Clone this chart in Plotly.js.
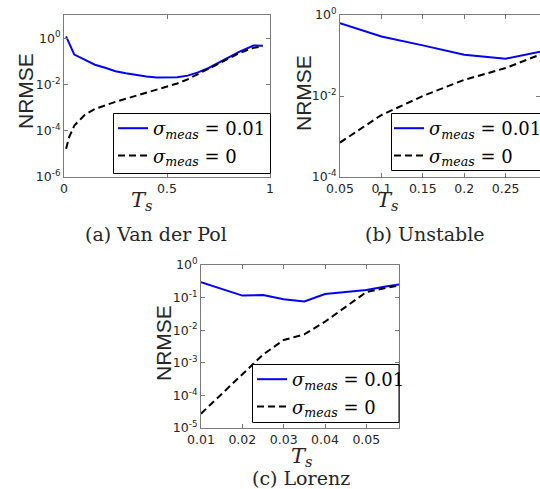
<!DOCTYPE html>
<html>
<head>
<meta charset="utf-8">
<script src="https://cdn.plot.ly/plotly-3.0.1.min.js"></script>
<style>html,body{margin:0;padding:0;background:#fff;}#chart{width:540px;height:489px;}</style>
</head>
<body>
<div id="chart"></div>
<script>
// ---- Data ----
// (a) Van der Pol
const vdpTsNoisy = [0.01, 0.05, 0.1, 0.15, 0.2, 0.25, 0.3, 0.35, 0.4, 0.45, 0.5, 0.55, 0.6, 0.65, 0.7, 0.75, 0.8, 0.85, 0.92, 0.965];
const vdpNoisy   = [1.20, 0.195, 0.117, 0.0708, 0.0525, 0.0372, 0.0302, 0.0251, 0.0219, 0.0200, 0.0195, 0.0204, 0.0240, 0.0331, 0.0501, 0.0851, 0.148, 0.257, 0.479, 0.468];
const vdpTsClean = [0.01, 0.025, 0.05, 0.1, 0.15, 0.2, 0.25, 0.3, 0.35, 0.4, 0.45, 0.5, 0.55, 0.6, 0.65, 0.7, 0.75, 0.8, 0.85, 0.92, 0.965];
const vdpClean   = [1.66e-5, 5.25e-5, 1.66e-4, 4.79e-4, 8.71e-4, 1.29e-3, 1.78e-3, 2.40e-3, 3.24e-3, 4.37e-3, 5.89e-3, 7.94e-3, 1.10e-2, 1.66e-2, 2.82e-2, 4.57e-2, 7.94e-2, 0.132, 0.224, 0.380, 0.447];
// (b) Unstable
const unsTs     = [0.05, 0.1, 0.15, 0.2, 0.25, 0.3];
const unsNoisy  = [0.631, 0.295, 0.178, 0.105, 0.0832, 0.135];
const unsClean  = [7.08e-4, 3.39e-3, 0.0100, 0.0251, 0.0490, 0.123];
// (c) Lorenz
const lorTs     = [0.01, 0.02, 0.025, 0.03, 0.035, 0.04, 0.045, 0.05, 0.055, 0.06];
const lorNoisy  = [0.295, 0.115, 0.120, 0.0891, 0.0759, 0.129, 0.148, 0.170, 0.224, 0.275];
const lorClean  = [2.75e-5, 4.47e-4, 1.78e-3, 5.01e-3, 7.41e-3, 0.0182, 0.0525, 0.148, 0.200, 0.263];

// tick labels
const yTicksA = [1e-6, 1e-4, 1e-2, 1];
const yTextA  = ['10<sup>-6</sup>', '10<sup>-4</sup>', '10<sup>-2</sup>', '10<sup>0</sup>'];
const yTicksB = [1e-4, 1e-2, 1];
const yTextB  = ['10<sup>-4</sup>', '10<sup>-2</sup>', '10<sup>0</sup>'];
const yTicksC = [1e-5, 1e-4, 1e-3, 1e-2, 1e-1, 1];
const yTextC  = ['10<sup>-5</sup>', '10<sup>-4</sup>', '10<sup>-3</sup>', '10<sup>-2</sup>', '10<sup>-1</sup>', '10<sup>0</sup>'];
const xTicksA = [0, 0.5, 1];
const xTextA  = ['0', '0.5', '1'];
const xTicksB = [0.05, 0.1, 0.15, 0.2, 0.25, 0.3];
const xTextB  = ['0.05', '0.1', '0.15', '0.2', '0.25', '0.3'];
const xTicksC = [0.01, 0.02, 0.03, 0.04, 0.05, 0.06];
const xTextC  = ['0.01', '0.02', '0.03', '0.04', '0.05', '0.06'];

const nameNoisy = '<i>σ</i><sub><i>meas</i></sub> = 0.01';
const nameClean = '<i>σ</i><sub><i>meas</i></sub> = 0';
const captions = ['(a) Van der Pol', '(b) Unstable', '(c) Lorenz'];

// ---- Layout helpers ----
const W = 540, H = 489;
const px = v => v / W;
const py = v => 1 - v / H;

const blue = {color: '#0000ff', width: 2};
const black = {color: '#000000', width: 2, dash: '7px,4px'};

function tr(x, y, name, line, xa, ya, leg, grp) {
  return {x: x, y: y, name: name, type: 'scatter', mode: 'lines', line: line,
          xaxis: xa, yaxis: ya, legend: leg, legendgroup: grp};
}

const data = [
  tr(vdpTsNoisy, vdpNoisy, nameNoisy, blue, 'x', 'y', 'legend', 'a1'),
  tr(vdpTsClean, vdpClean, nameClean, black, 'x', 'y', 'legend', 'a2'),
  tr(unsTs, unsNoisy, nameNoisy, blue, 'x2', 'y2', 'legend2', 'b1'),
  tr(unsTs, unsClean, nameClean, black, 'x2', 'y2', 'legend2', 'b2'),
  tr(lorTs, lorNoisy, nameNoisy, blue, 'x3', 'y3', 'legend3', 'c1'),
  tr(lorTs, lorClean, nameClean, black, 'x3', 'y3', 'legend3', 'c2')
];

const axCol = '#7a7a7a';
const tickFont = {family: 'DejaVu Sans', size: 12.5, color: '#262626'};
function ax(extra) {
  return Object.assign({showline: true, linecolor: axCol, linewidth: 1, mirror: 'ticks',
    ticks: 'inside', ticklen: 4, tickcolor: axCol, showgrid: false, zeroline: false,
    tickfont: tickFont, tickmode: 'array', fixedrange: true}, extra);
}

function legendAt(x, y) {
  return {x: px(x), y: py(y), xanchor: 'left', yanchor: 'top', xref: 'paper', yref: 'paper',
    bgcolor: 'rgba(0,0,0,0)', borderwidth: 0,
    font: {family: 'DejaVu Serif', size: 18, color: '#000'},
    tracegroupgap: 1, itemwidth: 30, traceorder: 'grouped'};
}
function boxShape(x0, y0, x1, y1) {
  return {type: 'rect', xref: 'paper', yref: 'paper', x0: px(x0), x1: px(x1), y0: py(y1), y1: py(y0),
    line: {color: '#000000', width: 1}, fillcolor: '#ffffff', layer: 'above'};
}

const titleFont = {family: 'Liberation Sans', size: 21, color: '#262626'};
const tsFont = {family: 'DejaVu Serif', size: 21, color: '#262626'};
const capFont = {family: 'DejaVu Serif', size: 19, color: '#262626'};

function ann(text, x, y, font, angle) {
  return {text: text, x: px(x), y: py(y), xref: 'paper', yref: 'paper', showarrow: false,
    xanchor: 'center', yanchor: 'middle', font: font, textangle: angle || 0};
}

const layout = {
  width: W, height: H,
  margin: {l: 0, r: 0, t: 0, b: 0, autoexpand: false},
  paper_bgcolor: '#ffffff', plot_bgcolor: '#ffffff',
  showlegend: true,
  xaxis:  ax({domain: [px(64), px(270)], anchor: 'y', range: [0, 1], tickvals: xTicksA, ticktext: xTextA}),
  yaxis:  ax({domain: [py(177), py(15)], anchor: 'x', type: 'log', range: [-6, 1], tickvals: yTicksA, ticktext: yTextA}),
  xaxis2: ax({domain: [px(340), 1], anchor: 'y2', range: [0.05, 0.2915], tickvals: xTicksB, ticktext: xTextB}),
  yaxis2: ax({domain: [py(177), py(15)], anchor: 'x2', type: 'log', range: [-4, 0], tickvals: yTicksB, ticktext: yTextB}),
  xaxis3: ax({domain: [px(201), px(399)], anchor: 'y3', range: [0.01, 0.0579], tickvals: xTicksC, ticktext: xTextC}),
  yaxis3: ax({domain: [py(428), py(265)], anchor: 'x3', type: 'log', range: [-5, 0], tickvals: yTicksC, ticktext: yTextC}),
  legend:  legendAt(113, 110),
  legend2: legendAt(389, 110),
  legend3: legendAt(252, 361),
  shapes: [
    boxShape(113.5, 113.5, 270.5, 173.5),
    boxShape(391.5, 113.5, 545, 170.5),
    boxShape(252.5, 364.5, 399, 422.5)
  ],
  annotations: [
    ann('NRMSE', 25, 91, titleFont, -90),
    ann('NRMSE', 303, 93, titleFont, -90),
    ann('NRMSE', 163, 343, titleFont, -90),
    ann('<i>T</i><sub><i>s</i></sub>', 142, 201, tsFont),
    ann('<i>T</i><sub><i>s</i></sub>', 388, 201, tsFont),
    ann('<i>T</i><sub><i>s</i></sub>', 302, 457, tsFont),
    ann(captions[0], 156, 234, capFont),
    ann(captions[1], 424, 234, capFont),
    ann(captions[2], 301, 478, capFont)
  ]
};

Plotly.newPlot('chart', data, layout, {staticPlot: true, displayModeBar: false});
</script>
</body>
</html>
